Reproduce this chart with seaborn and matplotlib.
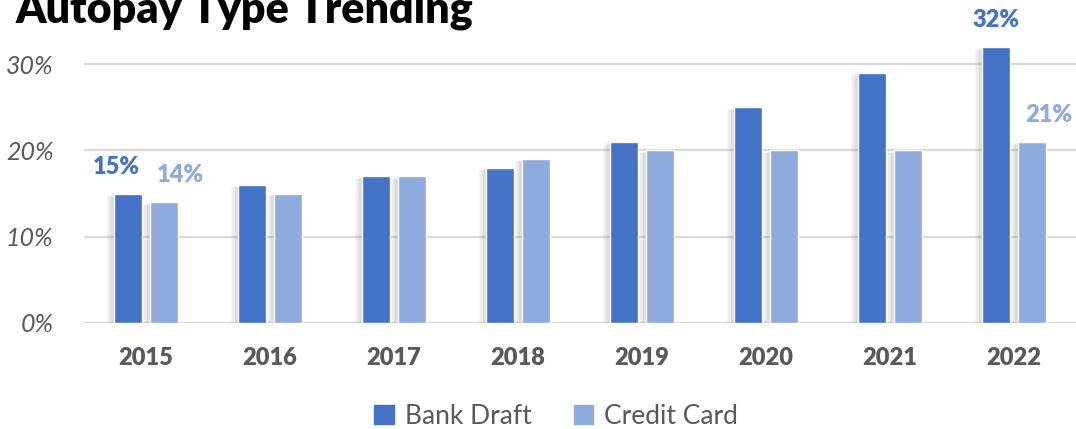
import matplotlib
matplotlib.use("Agg")
import matplotlib.pyplot as plt
import matplotlib.patheffects as pe
from matplotlib.ticker import PercentFormatter
import pandas as pd
import seaborn as sns

years = ["2015", "2016", "2017", "2018", "2019", "2020", "2021", "2022"]
bank_draft = [0.15, 0.16, 0.17, 0.18, 0.21, 0.25, 0.29, 0.32]
credit_card = [0.14, 0.15, 0.17, 0.19, 0.20, 0.20, 0.20, 0.21]
series_names = ["Bank Draft", "Credit Card"]
series_colors = ["#4472C4", "#8FAADC"]
y_ticks = [0.0, 0.10, 0.20, 0.30]

df = pd.DataFrame({
    "year": years * 2,
    "share": bank_draft + credit_card,
    "type": [series_names[0]] * len(years) + [series_names[1]] * len(years),
})

sns.set_style("white")
plt.rcParams["font.family"] = ["Lato", "DejaVu Sans"]

fig = plt.figure(figsize=(10.76, 4.29), dpi=100)
ax = fig.add_axes([84 / 1076, 106 / 429, 992 / 1076, 302 / 429])

sns.barplot(data=df, x="year", y="share", hue="type", palette=series_colors,
            width=0.58, gap=0.22, legend=False, saturation=1, ax=ax)

# soft shadow, faked with a few faint offset copies
shadow = [pe.SimplePatchShadow(offset=(-k, -k * 0.4), shadow_rgbFace="#808080", alpha=0.07)
          for k in (5, 4, 3, 2, 1)] + [pe.Normal()]
for cont in ax.containers:
    for bar in cont:
        bar.set_path_effects(shadow)
        bar.set_zorder(3)

ax.set_xlim(-0.5, len(years) - 0.5)
ax.set_ylim(0, 0.35)
ax.set_yticks(y_ticks)
ax.yaxis.set_major_formatter(PercentFormatter(1.0, decimals=0))
ax.grid(axis="y", color="#D9D9D9", linewidth=1.6, zorder=0)
ax.set_axisbelow(True)
for s in ax.spines.values():
    s.set_visible(False)
ax.set_xlabel("")
ax.set_ylabel("")
ax.tick_params(axis="y", length=0, pad=22, labelsize=18, labelcolor="#595959")
ax.tick_params(axis="x", length=0, pad=17, labelsize=17, labelcolor="#595959")
for t in ax.get_yticklabels():
    t.set_fontstyle("italic")
for t in ax.get_xticklabels():
    t.set_fontweight("heavy")

# data labels on first and last year only
label_shift = {(0, 0): -12, (1, 0): 16, (0, 7): 0, (1, 7): 17}
for (si, xi), dx in label_shift.items():
    bar = ax.containers[si][xi]
    val = [bank_draft, credit_card][si][xi]
    ax.annotate(f"{val:.0%}", xy=(bar.get_x() + bar.get_width() / 2, bar.get_height()),
                xytext=(dx, 27), textcoords="offset pixels", ha="center", va="center",
                fontsize=17, fontweight="heavy", color=series_colors[si], annotation_clip=False)

fig.text(16 / 1076, 1 - 22 / 429, "Autopay Type Trending", fontsize=31,
         fontweight="heavy", color="black", ha="left", va="baseline")

handles = [plt.Rectangle((0, 0), 1, 1, color=c) for c in series_colors]
fig.legend(handles, series_names, loc="center", bbox_to_anchor=(556 / 1076, 1 - 416 / 429),
           ncol=2, frameon=False, fontsize=19, labelcolor="#595959",
           handlelength=0.75, handleheight=0.75, handletextpad=0.4, columnspacing=1.6)

fig.savefig("out.png", dpi=100)
